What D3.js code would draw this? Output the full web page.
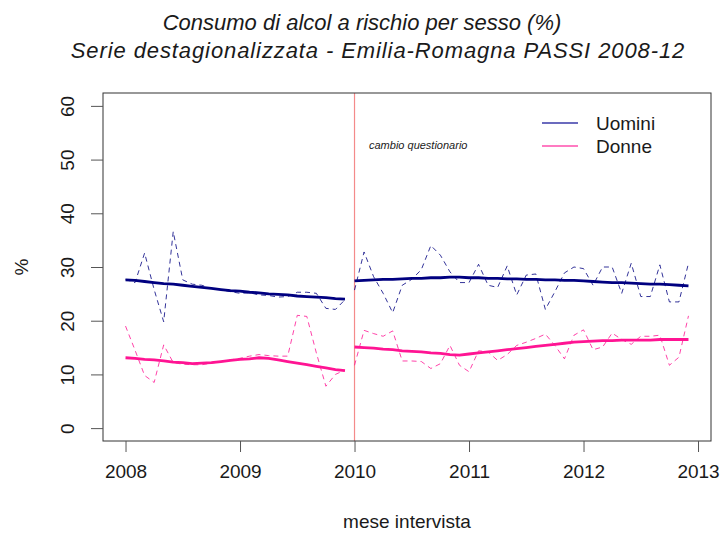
<!DOCTYPE html>
<html>
<head>
<meta charset="utf-8">
<script src="https://cdn.jsdelivr.net/npm/d3@7"></script>
<style>
  body { margin: 0; background: #fff; }
  svg text { font-family: "Liberation Sans", Arial, sans-serif; fill: #1a1a1a; }
</style>
</head>
<body>
<div id="chart"></div>
<script>
// periods (first month of each block)
var periodi = [2008, 2010];

// monthly raw series (dashed)
var uomini2008 = [27.7, 27.1, 32.6, 25.8, 19.8, 36.6, 27.6, 26.8, 26.6, 26.0, 25.8, 25.4,
                  25.1, 25.2, 24.8, 24.7, 24.4, 24.5, 25.3, 25.3, 25.1, 22.3, 22.1, 23.9];
var donne2008  = [19.0, 14.5, 9.8, 8.5, 15.5, 12.2, 11.9, 11.8, 11.8, 12.1, 12.4, 12.7,
                  13.0, 13.4, 13.7, 13.5, 13.4, 13.4, 21.0, 20.8, 14.0, 7.8, 10.0, 10.8];
var uomini2010 = [25.7, 32.8, 28.2, 25.1, 21.5, 26.6, 27.7, 29.5, 34.0, 32.2, 29.1, 27.1,
                  27.1, 30.5, 26.6, 26.2, 30.2, 24.8, 28.5, 28.7, 22.1, 25.4, 28.9, 30.0,
                  29.7, 26.6, 30.0, 30.0, 25.1, 30.7, 24.5, 24.5, 30.4, 23.5, 23.5, 30.7];
var donne2010  = [11.7, 18.2, 17.6, 17.1, 18.1, 12.5, 12.5, 12.4, 11.1, 12.0, 15.4, 11.7,
                  10.5, 14.4, 14.2, 12.6, 13.7, 15.4, 16.0, 16.7, 17.5, 15.4, 12.9, 17.3,
                  18.3, 14.6, 15.1, 17.7, 16.5, 15.6, 17.1, 17.1, 17.3, 11.7, 13.2, 20.9];

// smoothed trend (solid)
var uominiTrend2008 = [27.6, 27.5, 27.3, 27.1, 26.9, 26.8, 26.6, 26.4, 26.2, 26.0, 25.8, 25.6,
                       25.5, 25.3, 25.2, 25.0, 24.9, 24.8, 24.6, 24.5, 24.4, 24.3, 24.1, 24.0];
var donneTrend2008  = [13.1, 13.0, 12.8, 12.7, 12.5, 12.3, 12.2, 12.0, 12.1, 12.2, 12.4, 12.6,
                       12.8, 12.9, 13.1, 13.0, 12.7, 12.4, 12.1, 11.8, 11.5, 11.2, 10.9, 10.7];
var uominiTrend2010 = [27.4, 27.5, 27.6, 27.7, 27.7, 27.8, 27.9, 27.9, 28.0, 28.0, 28.1, 28.1,
                       28.0, 28.0, 27.9, 27.9, 27.8, 27.8, 27.7, 27.7, 27.6, 27.6, 27.5, 27.5,
                       27.4, 27.3, 27.2, 27.1, 27.1, 27.0, 26.9, 26.8, 26.8, 26.7, 26.6, 26.5];
var donneTrend2010  = [15.1, 15.0, 14.9, 14.7, 14.6, 14.4, 14.3, 14.2, 14.0, 13.9, 13.7, 13.6,
                       13.8, 14.0, 14.2, 14.4, 14.6, 14.8, 15.0, 15.2, 15.4, 15.6, 15.8, 16.0,
                       16.1, 16.2, 16.3, 16.3, 16.4, 16.4, 16.4, 16.4, 16.5, 16.5, 16.5, 16.5];

var xTicks = [2008, 2009, 2010, 2011, 2012, 2013];
var yTicks = [0, 10, 20, 30, 40, 50, 60];
var legenda = ["Uomini", "Donne"];

var blu = "#000080", rosa = "#ff1493";

// plot box
var width = 722, height = 533;
var box = {left: 103, top: 93, right: 711, bottom: 441};

var svg = d3.select("#chart").append("svg")
    .attr("width", width)
    .attr("height", height);

// R style 4% padding on the axes
var xmin = 2008, xmax = 2012 + 11 / 12, pad = (xmax - xmin) * 0.04;
var x = d3.scaleLinear()
    .domain([xmin - pad, xmax + pad])
    .range([box.left, box.right]);
var y = d3.scaleLinear()
    .domain([0 - 2.4, 60 + 2.4])
    .range([box.bottom, box.top]);

function monthly(start, values) {
  return values.map(function(v, i) { return {t: start + i / 12, v: v}; });
}

var line = d3.line()
    .x(function(d) { return x(d.t); })
    .y(function(d) { return y(d.v); });

// vertical line: questionnaire change
svg.append("line")
    .attr("x1", x(2010)).attr("x2", x(2010))
    .attr("y1", box.top).attr("y2", box.bottom)
    .attr("stroke", "#f48a8a")
    .attr("stroke-width", 1.2);

svg.append("text")
    .attr("x", 369)
    .attr("y", 149)
    .style("font-size", "11px")
    .style("font-style", "italic")
    .text("cambio questionario");

// dashed raw series
var grezzi = [
  {start: periodi[0], v: uomini2008, c: blu},
  {start: periodi[1], v: uomini2010, c: blu},
  {start: periodi[0], v: donne2008, c: rosa},
  {start: periodi[1], v: donne2010, c: rosa}
];
grezzi.forEach(function(s) {
  svg.append("path")
      .datum(monthly(s.start, s.v))
      .attr("fill", "none")
      .attr("stroke", s.c)
      .attr("stroke-opacity", 0.8)
      .attr("stroke-width", 1)
      .attr("stroke-dasharray", "5,4")
      .attr("d", line);
});

// trend lines
var trend = [
  {start: periodi[0], v: uominiTrend2008, c: blu},
  {start: periodi[1], v: uominiTrend2010, c: blu},
  {start: periodi[0], v: donneTrend2008, c: rosa},
  {start: periodi[1], v: donneTrend2010, c: rosa}
];
trend.forEach(function(s) {
  svg.append("path")
      .datum(monthly(s.start, s.v))
      .attr("fill", "none")
      .attr("stroke", s.c)
      .attr("stroke-width", 2.8)
      .attr("stroke-linejoin", "round")
      .attr("d", line);
});

// box
svg.append("rect")
    .attr("x", box.left).attr("y", box.top)
    .attr("width", box.right - box.left)
    .attr("height", box.bottom - box.top)
    .attr("fill", "none")
    .attr("stroke", "#333");

// x axis
var gx = svg.append("g")
    .attr("transform", "translate(0," + box.bottom + ")")
    .call(d3.axisBottom(x).tickValues(xTicks).tickSize(11).tickPadding(13).tickFormat(d3.format("d")));
gx.select(".domain").remove();
gx.selectAll("line").attr("stroke", "#555");
gx.selectAll("text").style("font-size", "19px").attr("fill", "#1a1a1a");

// y axis
var gy = svg.append("g")
    .attr("transform", "translate(" + box.left + ",0)")
    .call(d3.axisLeft(y).tickValues(yTicks).tickSize(12));
gy.select(".domain").remove();
gy.selectAll("line").attr("stroke", "#555");
gy.selectAll("text")
    .attr("x", 0).attr("dy", 0)
    .attr("text-anchor", "middle")
    .attr("transform", "translate(-29,0) rotate(-90)")
    .style("font-size", "19px")
    .attr("fill", "#1a1a1a");

// axis labels
svg.append("text")
    .attr("text-anchor", "middle")
    .attr("x", (box.left + box.right) / 2)
    .attr("y", 528)
    .style("font-size", "19px")
    .text("mese intervista");

svg.append("text")
    .attr("text-anchor", "middle")
    .attr("transform", "translate(28,267) rotate(-90)")
    .style("font-size", "19px")
    .text("%");

// title
svg.append("text")
    .attr("text-anchor", "middle")
    .attr("x", 362).attr("y", 30)
    .style("font-size", "22px")
    .style("font-style", "italic")
    .text("Consumo di alcol a rischio per sesso (%)");
svg.append("text")
    .attr("text-anchor", "middle")
    .attr("x", 378).attr("y", 58)
    .style("font-size", "22px")
    .style("font-style", "italic")
    .style("letter-spacing", "0.9px")
    .text("Serie destagionalizzata - Emilia-Romagna PASSI 2008-12");

// legend
var legColori = ["#3a3aa8", "#ff4fae"];
legenda.forEach(function(nome, i) {
  var ly = 123 + i * 23;
  svg.append("line")
      .attr("x1", 542).attr("x2", 578)
      .attr("y1", ly).attr("y2", ly)
      .attr("stroke", legColori[i])
      .attr("stroke-width", 1.3);
  svg.append("text")
      .attr("x", 596).attr("y", ly + 7)
      .style("font-size", "19px")
      .text(nome);
});
</script>
</body>
</html>
